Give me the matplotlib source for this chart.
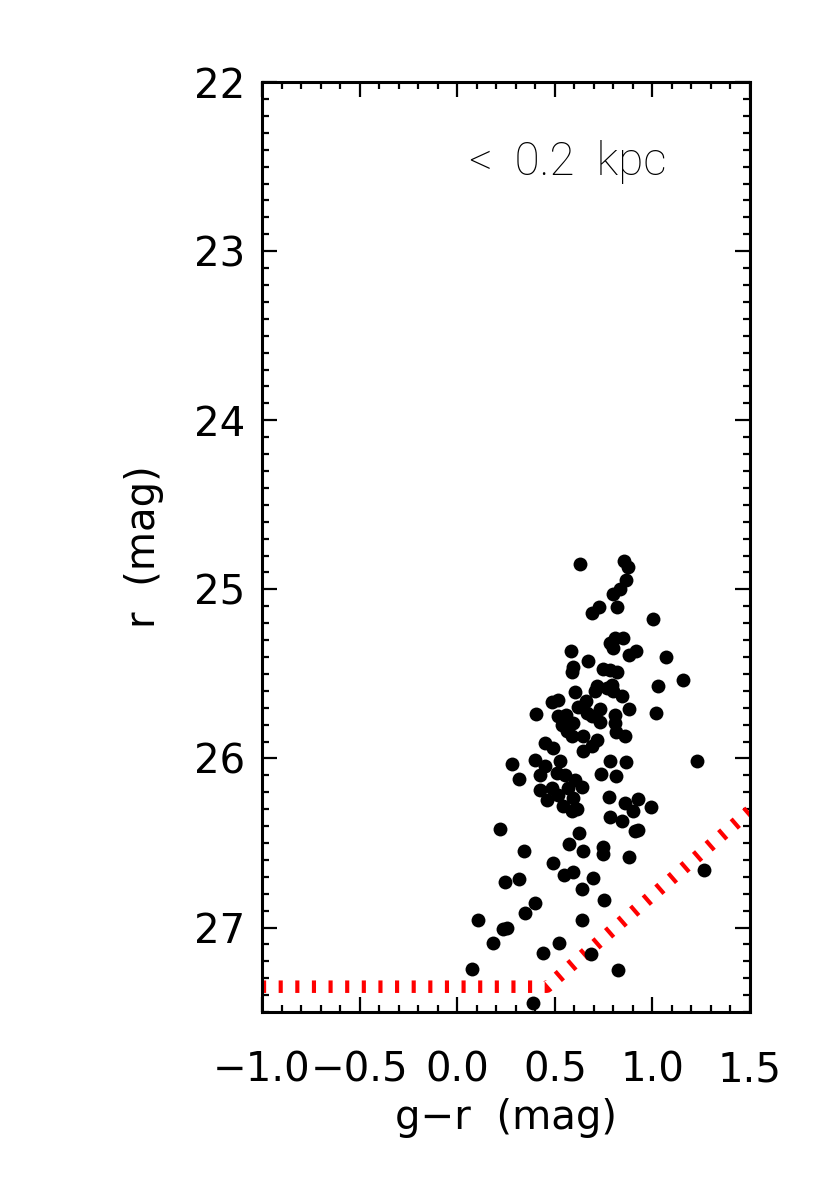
import numpy as np
import matplotlib
matplotlib.use("Agg")
import matplotlib.pyplot as plt
from matplotlib.ticker import MultipleLocator

# ---- colour g-r and r magnitude of the stars ----
g_r = [0.629, 0.856, 0.877, 0.865, 0.834, 0.797, 0.728, 0.689, 0.817, 1.002,
       0.783, 0.808, 0.848, 0.800, 0.581, 0.672, 0.882, 0.916, 1.070, 0.595,
       0.587, 0.745, 0.783, 0.820, 1.158, 0.715, 0.791, 0.706, 0.800, 1.030,
       0.603, 0.843, 0.766, 0.484, 0.518, 0.660, 0.620, 0.732, 0.882, 1.018,
       0.402, 0.518, 0.557, 0.663, 0.808, 0.535, 0.592, 0.689, 0.732, 0.808,
       0.561, 0.587, 0.643, 0.715, 0.814, 0.860, 0.450, 0.492, 0.646, 0.689,
       0.279, 0.399, 0.450, 0.527, 0.783, 0.865, 1.230, 0.318, 0.424, 0.510,
       0.552, 0.603, 0.735, 0.814, 0.424, 0.458, 0.484, 0.518, 0.569, 0.638,
       0.595, 0.544, 0.587, 0.612, 0.779, 0.860, 0.928, 0.993, 0.783, 0.843,
       0.899, 0.911, 0.928, 0.219, 0.626, 0.574, 0.643, 0.748, 0.748, 0.882,
       0.342, 0.492, 0.547, 0.592, 0.694, 0.638, 0.754, 1.264, 0.245, 0.317,
       0.399, 0.347, 0.108, 0.236, 0.254, 0.638, 0.182, 0.441, 0.522, 0.685,
       0.074, 0.822, 0.387]
r_mag = [24.849, 24.831, 24.865, 24.947, 24.998, 25.028, 25.105, 25.140, 25.105, 25.176,
         25.317, 25.288, 25.288, 25.347, 25.367, 25.422, 25.387, 25.367, 25.402, 25.459,
         25.491, 25.471, 25.475, 25.489, 25.534, 25.570, 25.564, 25.603, 25.603, 25.574,
         25.607, 25.633, 25.583, 25.668, 25.657, 25.662, 25.696, 25.707, 25.707, 25.731,
         25.735, 25.747, 25.741, 25.731, 25.741, 25.800, 25.790, 25.751, 25.787, 25.790,
         25.840, 25.869, 25.869, 25.889, 25.846, 25.865, 25.908, 25.938, 25.958, 25.928,
         26.031, 26.007, 26.047, 26.017, 26.017, 26.023, 26.017, 26.119, 26.096, 26.086,
         26.096, 26.125, 26.090, 26.106, 26.184, 26.243, 26.174, 26.214, 26.174, 26.171,
         26.234, 26.283, 26.313, 26.299, 26.230, 26.263, 26.239, 26.287, 26.346, 26.372,
         26.313, 26.431, 26.425, 26.417, 26.444, 26.504, 26.549, 26.523, 26.563, 26.582,
         26.545, 26.618, 26.687, 26.673, 26.706, 26.775, 26.835, 26.657, 26.732, 26.716,
         26.858, 26.917, 26.953, 27.008, 27.002, 26.957, 27.090, 27.150, 27.090, 27.155,
         27.244, 27.252, 27.449]

# completeness limit (red dotted line)
limit_x = [-1.0, 0.46, 1.5]
limit_r = [27.35, 27.35, 26.31]

label_text = "<  0.2  kpc"

fig = plt.figure(figsize=(8.25, 11.79), dpi=100)
ax = fig.add_axes([0.3176, 0.1416, 0.5915, 0.7888])

ax.plot(limit_x, limit_r, color="red", lw=9, linestyle=(0, (0.33, 1.0)),
        dash_capstyle="butt", zorder=2)
ax.plot(g_r, r_mag, "o", color="black", markersize=10, markeredgewidth=0, zorder=3)

ax.set_xlim(-1.0, 1.5)
ax.set_ylim(27.5, 22.0)

ax.xaxis.set_major_locator(MultipleLocator(0.5))
ax.xaxis.set_minor_locator(MultipleLocator(0.1))
ax.yaxis.set_major_locator(MultipleLocator(1.0))
ax.yaxis.set_minor_locator(MultipleLocator(0.1))
ax.set_xticks([-1.0, -0.5, 0.0, 0.5, 1.0, 1.5])
ax.set_xticklabels(["\u22121.0", "\u22120.5", "0.0", "0.5", "1.0", "1.5"])
ax.set_yticks([22, 23, 24, 25, 26, 27])

ax.tick_params(which="both", direction="in", top=True, right=True, width=1.6, labelsize=29)
ax.tick_params(axis="x", which="major", length=11, pad=28)
ax.tick_params(axis="y", which="major", length=11, pad=12)
ax.tick_params(which="minor", length=5)
for sp in ax.spines.values():
    sp.set_linewidth(2.2)

ax.set_xlabel("g\u2212r  (mag)", fontsize=29)
ax.set_ylabel("r  (mag)", fontsize=29)
ax.xaxis.set_label_coords(0.5, -0.092)
ax.yaxis.set_label_coords(-0.2, 0.5)

ax.text(0.568, 22.55, label_text, fontsize=33, fontfamily="Roboto", fontweight="light",
        color="black", ha="center", va="baseline")

fig.savefig("out.png", dpi=100)
